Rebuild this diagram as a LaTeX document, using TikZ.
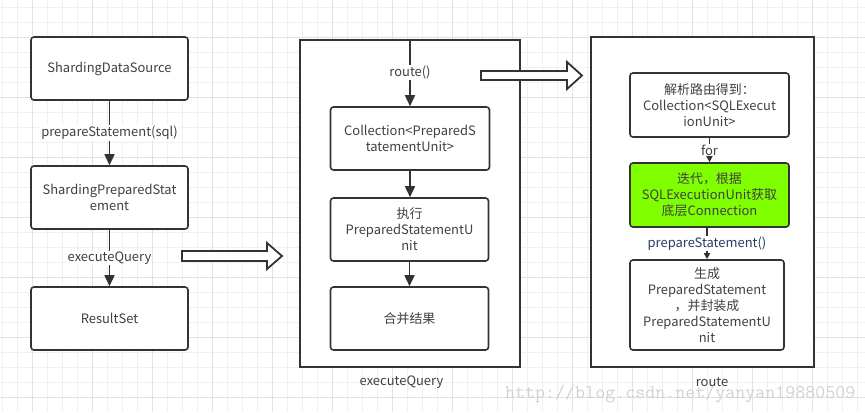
\documentclass[tikz,border=0pt]{standalone}
\usepackage{fontspec}
\setmainfont{Noto Sans CJK SC}
\usetikzlibrary{arrows.meta}
\definecolor{ink}{HTML}{333333}
\definecolor{txt}{HTML}{404040}
\definecolor{gridminor}{HTML}{F0F0F0}
\definecolor{gridmajor}{HTML}{E2E2E2}
\definecolor{lime}{HTML}{80FF00}
\definecolor{navy}{HTML}{283C64}
\definecolor{wm}{HTML}{D2D2CC}
\tikzset{
  box/.style={draw=ink, line width=1.6bp, rounded corners=3bp, fill=white, text=txt,
    align=center, inner sep=0pt, font=\fontsize{13}{16}\selectfont},
  frame/.style={draw=ink, line width=1.8bp, fill=white, inner sep=0pt},
  conn/.style={draw=ink, line width=1.6bp, -{Triangle[length=11bp,width=10bp]}},
  smallconn/.style={draw=ink, line width=1.6bp, -{Triangle[length=6bp,width=6bp]}},
  lbl/.style={fill=white, inner sep=1bp, text=txt, font=\fontsize{13}{16}\selectfont},
  captext/.style={text=txt, inner sep=0pt, font=\fontsize{13}{16}\selectfont},
  hollow/.style={draw=ink, line width=1.8bp, fill=white, line join=miter}
}
\begin{document}
\begin{tikzpicture}[x=1bp,y=-1bp]
\useasboundingbox (0,0) rectangle (865,412);
\fill[white] (0,0) rectangle (865,412);
% grid
\foreach \x in {2.3,17.3,...,865} \draw[gridminor, line width=1bp] (\x,0) -- (\x,412);
\foreach \y in {7.7,22.7,...,412} \draw[gridminor, line width=1bp] (0,\y) -- (865,\y);
\foreach \x in {32.3,92.3,...,865} \draw[gridmajor, line width=1bp] (\x,0) -- (\x,412);
\foreach \y in {37.7,97.7,...,412} \draw[gridmajor, line width=1bp] (0,\y) -- (865,\y);

% left column
\node[box, minimum width=157bp, minimum height=63bp] (sds) at (109.5,68.5) {ShardingDataSource};
\node[box, minimum width=157bp, minimum height=63bp] (sps) at (109.5,197.5) {ShardingPreparedStat\\ement};
\node[box, minimum width=157bp, minimum height=63bp] (rs) at (109.5,318.5) {ResultSet};
\draw[conn] (sds) -- node[lbl] {prepareStatement(sql)} (sps);
\draw[conn] (sps) -- node[lbl] {executeQuery} (rs);

% middle frame
\node[frame, minimum width=220bp, minimum height=327bp] (mframe) at (410,203.5) {};
\node[captext] (mcap) at (401.5,382) {executeQuery};
\node[box, minimum width=159bp, minimum height=63bp] (coll) at (410,138.5) {Collection<PreparedS\\tatementUnit>};
\node[box, minimum width=158bp, minimum height=63bp] (exec) at (409.5,229.5) {执行\\PreparedStatementU\\nit};
\node[box, minimum width=158bp, minimum height=63bp] (merge) at (409.5,318.5) {合并结果};
\draw[conn] (mframe.north -| coll.north) -- node[lbl] {route()} (coll.north);
\draw[conn] (coll) -- (coll.south |- exec.north);
\draw[conn] (exec) -- (merge);

% right frame
\node[frame, minimum width=223bp, minimum height=330bp] (rframe) at (702.5,202) {};
\node[box, minimum width=159bp, minimum height=64bp] (parse) at (709.5,105) {解析路由得到：\\Collection<SQLExecut\\ionUnit>};
\node[box, fill=lime, minimum width=159bp, minimum height=64bp] (green) at (709.5,195) {迭代，根据\\SQLExecutionUnit获取\\底层Connection};
\node[box, minimum width=154bp, minimum height=90bp] (gen) at (707,305) {生成\\PreparedStatement\\，并封装成\\PreparedStatementU\\nit};
\draw[smallconn] (parse) -- node[lbl] {for} (green);
\draw[smallconn] (green.south -| gen.north) -- node[lbl, text=navy] {prepareStatement()} (gen.north);

% hollow block arrows
\draw[hollow] (182,251) -- (267,251) -- (267,243) -- (282,256) -- (267,269) -- (267,261) -- (182,261) -- cycle;
\draw[hollow] (481,71) -- (567,71) -- (567,62) -- (582,75.5) -- (567,89) -- (567,80) -- (481,80) -- cycle;

% watermark
\node[text=wm, inner sep=0pt, anchor=base west, font=\ttfamily\fontsize{19.5}{19.5}\selectfont] (wmk) at (505,398) {http://blog.csdn.net/yanyan19880509};
\node[captext] (rcap) at (712,382) {route};
\end{tikzpicture}
\end{document}
